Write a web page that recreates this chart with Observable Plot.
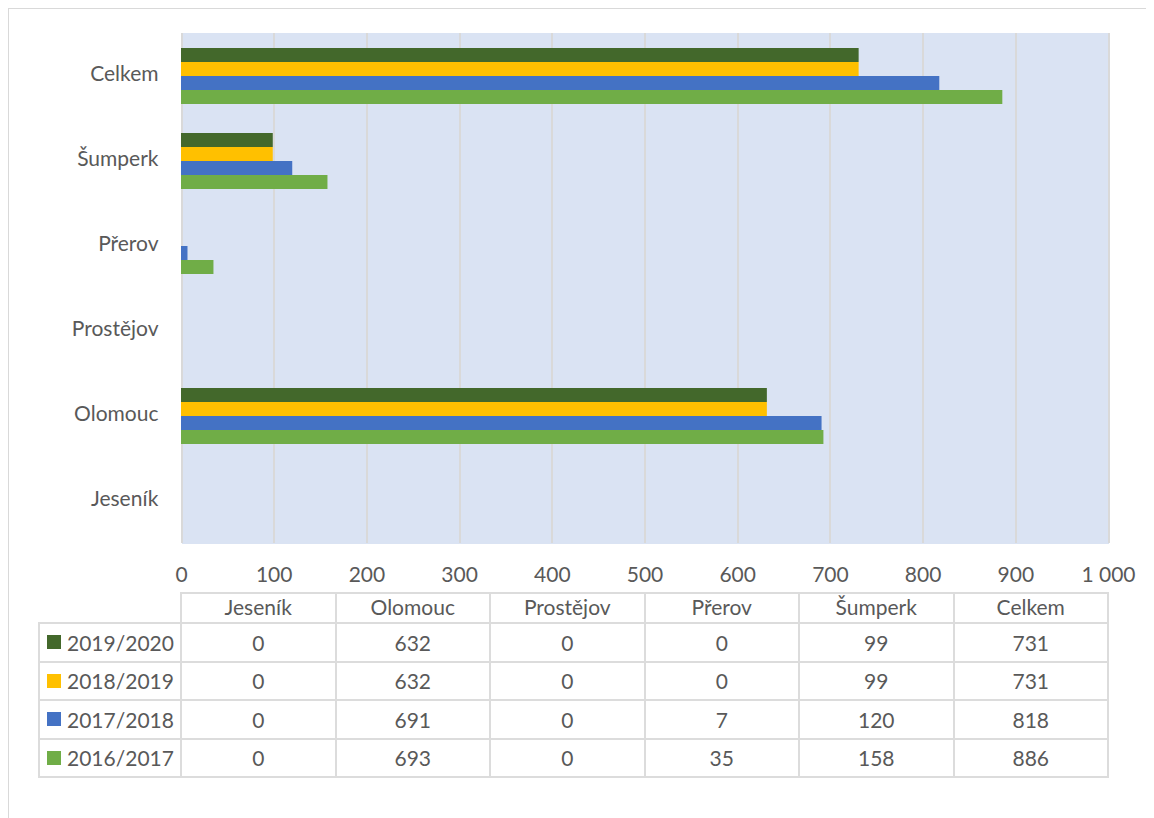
<!DOCTYPE html>
<html>
<head>
<meta charset="utf-8">
<script src="https://cdn.jsdelivr.net/npm/d3@7"></script>
<script src="https://cdn.jsdelivr.net/npm/@observablehq/plot@0.6"></script>
<style>
  html, body { margin: 0; padding: 0; background: #fff; }
  body { width: 1154px; height: 818px; position: relative; overflow: hidden; font-family: Lato, "Open Sans", sans-serif; color: #595959; }
  #frame { position: absolute; left: 8px; top: 8px; width: 1137px; height: 900px; border-top: 1px solid #d9d9d9; border-left: 1px solid #d9d9d9; }
  #chart { position: absolute; left: 0; top: 0; }
  .cell { position: absolute; box-sizing: border-box; border: 2px solid #dcdcdc; font-size: 21px; line-height: 1; display: flex; align-items: center; justify-content: center; color: #595959; }
  .head { padding-bottom: 4px; }
  .leg { justify-content: flex-start; padding-left: 7px; }
  .sw { display: inline-block; width: 14px; height: 14px; margin-right: 6px; }
</style>
</head>
<body>
<div id="frame"></div>
<div id="chart"></div>
<div id="table"></div>
<script>
// ---- data ----
const categories = ["Jeseník", "Olomouc", "Prostějov", "Přerov", "Šumperk", "Celkem"];
const seasons = ["2019/2020", "2018/2019", "2017/2018", "2016/2017"];
const colors = ["#43682b", "#ffc000", "#4472c4", "#70ad47"];
const values2019_2020 = [0, 632, 0, 0, 99, 731];
const values2018_2019 = [0, 632, 0, 0, 99, 731];
const values2017_2018 = [0, 691, 0, 7, 120, 818];
const values2016_2017 = [0, 693, 0, 35, 158, 886];
const xTicks = [0, 100, 200, 300, 400, 500, 600, 700, 800, 900, 1000];

const series = [values2019_2020, values2018_2019, values2017_2018, values2016_2017];
const data = seasons.flatMap((s, i) => categories.map((c, j) => ({season: s, category: c, value: series[i][j]})));

const locale = d3.formatLocale({decimal: ",", thousands: "\u00a0", grouping: [3], currency: ["", ""]});
const fmt = locale.format(",d");

const W = 1154, H = 590;
const ML = 181, MR = 46, MT = 31, MB = 46;

const chart = Plot.plot({
  width: W, height: H,
  marginLeft: ML, marginRight: MR, marginTop: MT, marginBottom: MB,
  style: {fontFamily: "Lato, 'Open Sans', sans-serif", fontSize: "21px", color: "#595959", background: "transparent", overflow: "visible"},
  x: {domain: [0, 1000], ticks: xTicks, tickFormat: fmt, label: null},
  y: {domain: seasons, paddingInner: 0, paddingOuter: 0.9, axis: null},
  fy: {domain: [...categories].reverse(), padding: 0, label: null},
  color: {domain: seasons, range: colors},
  marks: [
    Plot.frame({fill: "#dae3f3", stroke: "none", insetTop: -0.5, insetBottom: -0.5, shapeRendering: "crispEdges"}),
    Plot.gridX(xTicks, {stroke: "#d9d9d9", strokeOpacity: 1, strokeWidth: 2, shapeRendering: "crispEdges"}),
    Plot.barX(data, {x: "value", y: "season", fy: "category", fill: "season"}),
    Plot.axisX({ticks: xTicks, tickFormat: fmt, tickSize: 0, tickPadding: 24, fontSize: 21, fill: "#595959", label: null}),
    Plot.axisFy({anchor: "left", tickSize: 0, tickPadding: 23, dy: -2, fontSize: 21, fill: "#595959", label: null})
  ]
});
document.getElementById("chart").appendChild(chart);

// ---- data table ----
const table = document.getElementById("table");
const colW = (W - MR - ML) / categories.length;
const headTop = 592, headH = 30, rowH = 38.5, legL = 38;
function cell(x, y, w, h, html, cls) {
  const d = document.createElement("div");
  d.className = "cell" + (cls ? " " + cls : "");
  d.style.left = x + "px"; d.style.top = y + "px";
  d.style.width = (w + 2) + "px"; d.style.height = (h + 2) + "px";
  d.innerHTML = html;
  table.appendChild(d);
}
categories.forEach((c, j) => cell(ML - 1 + j * colW, headTop, colW, headH, c, "head"));
seasons.forEach((s, i) => {
  const y = headTop + headH + i * rowH;
  cell(legL, y, ML - 1 - legL, rowH, `<span class="sw" style="background:${colors[i]}"></span>${s}`, "leg");
  categories.forEach((c, j) => cell(ML - 1 + j * colW, y, colW, rowH, fmt(series[i][j])));
});
</script>
</body>
</html>
